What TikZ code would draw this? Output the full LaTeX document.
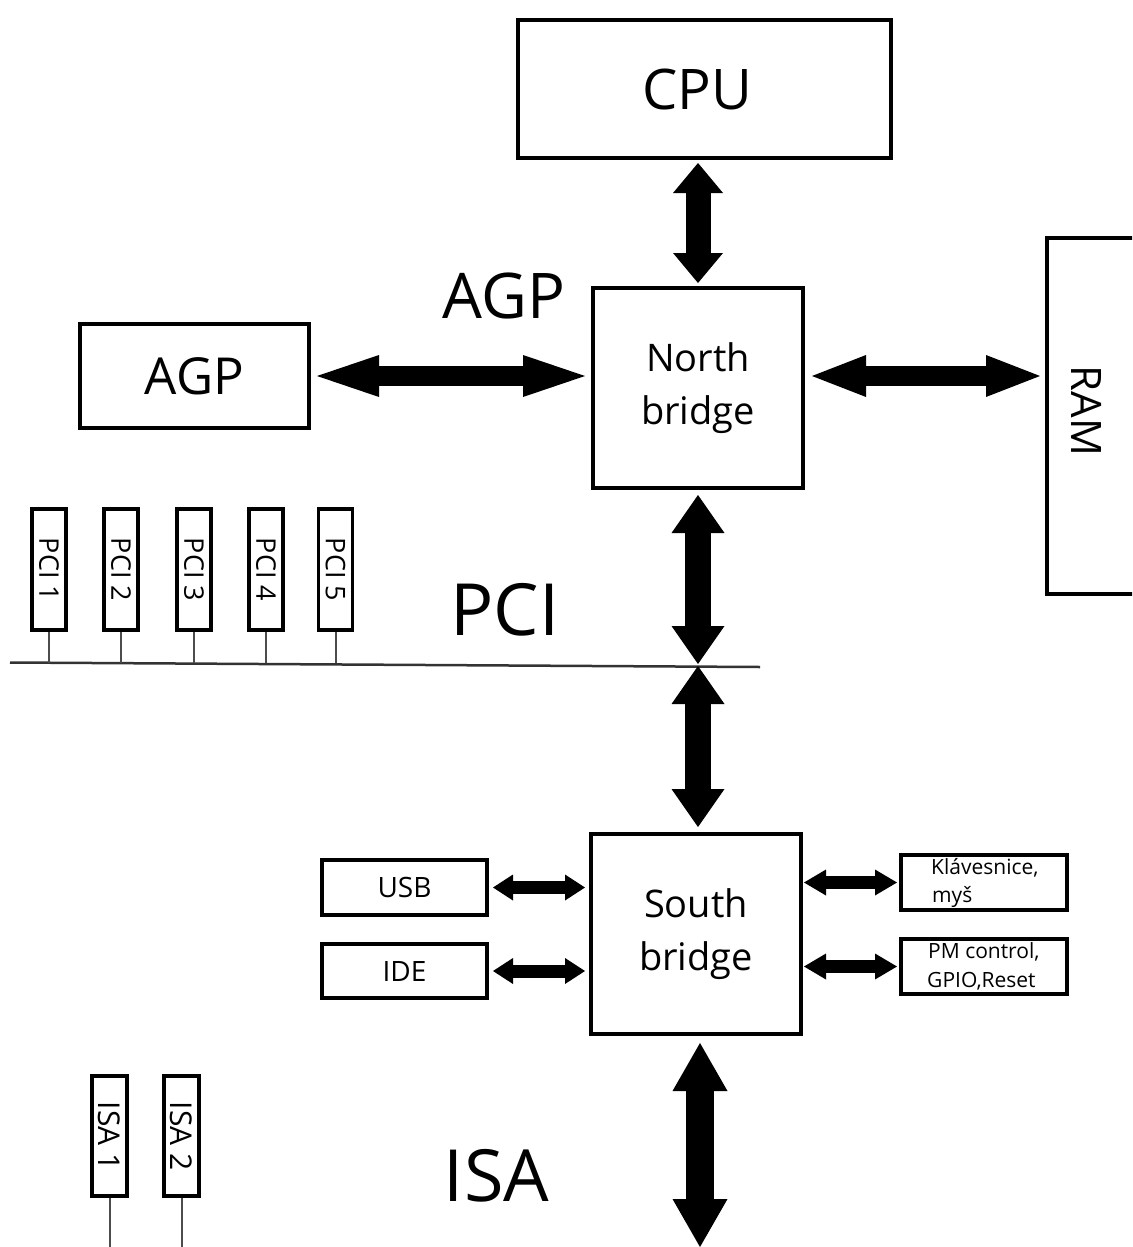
\documentclass[tikz,border=0pt]{standalone}
\usepackage{fontspec}
\usepackage{graphicx}
\setmainfont{Open Sans}
\usetikzlibrary{arrows.meta,calc}
\newcommand\setfs[2]{\fontsize{#1}{#2}\selectfont}
\begin{document}
\begin{tikzpicture}[x=1pt,y=-1pt,
  box/.style={draw, line width=4pt, inner sep=0pt, align=center},
  slot/.style={draw, line width=3.5pt, inner sep=0pt},
  stem/.style={line width=2pt, draw=black!70},
  lbl/.style={anchor=base, inner sep=0pt},
  small/.style={anchor=base west, inner sep=0pt, font=\setfs{21}{28}},
  dbl/.style n args={3}{line width=#1,
    {Triangle[length=#3,width=#2,line width=0pt]}-{Triangle[length=#3,width=#2,line width=0pt]}}]
\useasboundingbox (0,0) rectangle (1132,1247);
\clip (0,0) rectangle (1132,1247);

% main boxes
\node[box, minimum width=373pt, minimum height=138pt, font=\setfs{56}{67}] (cpu) at (704.5,89) {\hspace*{-14pt}CPU};
\node[box, minimum width=210pt, minimum height=200pt, font=\setfs{38}{53}] (nb) at (698,388) {North\\bridge};
\node[box, minimum width=229pt, minimum height=104pt, font=\setfs{51}{60}] (agpbox) at (194.5,376) {AGP};
\node[box, minimum width=120pt, minimum height=356pt] (ram) at (1107,416) {};
\node[rotate=-90, inner sep=0pt, font=\setfs{42}{50}] (ramtext) at (1087,411) {RAM};
\node[box, minimum width=210pt, minimum height=200pt, font=\setfs{38}{53}] (sb) at (696,934) {South\\bridge};
\node[box, minimum width=165pt, minimum height=55pt, font=\setfs{28}{32}] (usb) at (404.5,887.5) {USB};
\node[box, minimum width=165pt, minimum height=54pt, font=\setfs{28}{32}] (ide) at (404.5,971) {IDE};
\node[box, minimum width=166pt, minimum height=55pt] (kbd) at (984,882.5) {};
\node[box, minimum width=166pt, minimum height=55pt] (pm) at (984,966.5) {};
\node[small] (kbd1) at (931,874) {Klávesnice,};
\node[small] (kbd2) at (932,902) {myš};
\node[small] (pm1) at (928,958) {PM control,};
\node[small] (pm2) at (927,987) {GPIO,Reset};

% bus labels
\node[lbl, font=\setfs{63}{70}] (agplbl) at (504,318) {AGP};
\node[lbl, font=\setfs{72}{80}] (pcilbl) at (505,635) {PCI};
\node[lbl, font=\setfs{72}{80}] (isalbl) at (496.5,1201) {ISA};

% slots
\foreach \i/\x in {1/49,2/121,3/194,4/266,5/335.5}
  \node[slot, minimum width=34pt, minimum height=121pt, font=\setfs{27}{30}] (pci\i) at (\x,569.5) {\rotatebox{-90}{PCI \i}};
\foreach \i/\x in {1/109.5,2/181.5}
  \node[slot, minimum width=35pt, minimum height=120pt, font=\setfs{30}{34}] (isa\i) at (\x,1136) {\rotatebox{-90}{ISA \i}};

\coordinate (busL) at (10,662.5);
\coordinate (busR) at (760,667);
\coordinate (pcibus) at (698,665);
\coordinate (isaend) at (700,1247);

\draw[line width=2.5pt, black!80] (busL) -- (busR);
\foreach \i in {1,...,5} \draw[stem] (pci\i.south) -- (pci\i.south |- busL);
\foreach \i in {1,2} \draw[stem] (isa\i.south) -- (isa\i.south |- isaend);

% arrows
\draw[dbl={25pt}{50pt}{30pt}, shorten <=3pt, shorten >=3pt] (nb.north |- cpu.south) -- (nb.north);
\draw[dbl={26pt}{53pt}{38pt}, shorten <=5pt, shorten >=1pt] (nb.south) -- (pcibus);
\draw[dbl={26pt}{53pt}{38pt}, shorten <=1pt, shorten >=5pt] (pcibus) -- (pcibus |- sb.north);
\draw[dbl={28pt}{55pt}{48pt}, shorten <=7pt] (isaend |- sb.south) -- (isaend);
\draw[dbl={20pt}{42pt}{62pt}, shorten <=6pt, shorten >=6pt] (agpbox.east) -- (agpbox.east -| nb.west);
\draw[dbl={20pt}{42pt}{54pt}, shorten <=7pt, shorten >=5pt] (nb.east |- agpbox.east) -- (ram.west |- agpbox.east);
\draw[dbl={13pt}{26pt}{20pt}, shorten <=4pt, shorten >=4pt] (usb.east) -- (usb.east -| sb.west);
\draw[dbl={13pt}{26pt}{20pt}, shorten <=4pt, shorten >=4pt] (ide.east) -- (ide.east -| sb.west);
\draw[dbl={13pt}{26pt}{22pt}, shorten <=1pt, shorten >=2pt] (sb.east |- kbd.west) -- (kbd.west);
\draw[dbl={13pt}{26pt}{22pt}, shorten <=1pt, shorten >=2pt] (sb.east |- pm.west) -- (pm.west);
\end{tikzpicture}
\end{document}
